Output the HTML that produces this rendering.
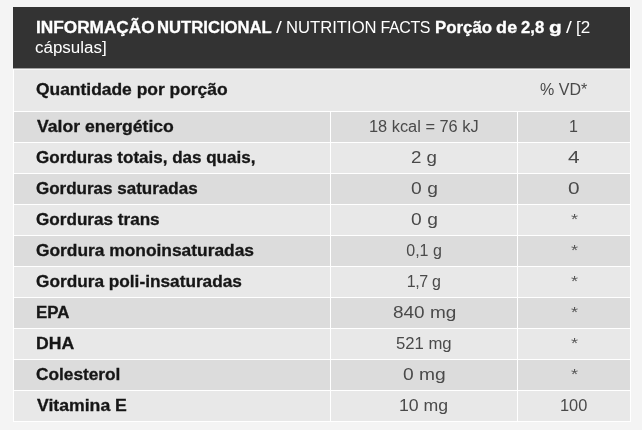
<!DOCTYPE html>
<html lang="pt-BR"><head><meta charset="utf-8"><title>Informação Nutricional</title>
<style>
html,body{margin:0;padding:0}
body{width:642px;height:430px;overflow:hidden;position:relative;background:#f4f4f4;font-family:"Liberation Sans", sans-serif;}
.r{position:absolute;left:13px;width:618px}
.t{position:absolute;white-space:pre;line-height:20px;height:20px;transform-origin:0 0}
.b{-webkit-text-stroke:0.3px currentColor}
</style></head><body>
<div class="r" style="top:7px;height:415px;background:#fff"></div>
<div class="r" style="top:7px;height:61px;width:617px;background:#333333"></div>
<div class="r" style="top:68px;height:1px;width:617px;background:#a3a3a3"></div>
<div class="r" style="top:69px;height:1px;left:14px;width:616px;background:#f6f6f6"></div>
<div style="position:absolute;left:14px;top:70px;width:616px;height:41px;background:#e8e8e8"></div>
<div style="position:absolute;left:14px;top:112px;width:316px;height:30px;background:#dcdcdc"></div>
<div style="position:absolute;left:331px;top:112px;width:186px;height:30px;background:#dcdcdc"></div>
<div style="position:absolute;left:518px;top:112px;width:112px;height:30px;background:#dcdcdc"></div>
<div style="position:absolute;left:14px;top:143px;width:316px;height:30px;background:#e8e8e8"></div>
<div style="position:absolute;left:331px;top:143px;width:186px;height:30px;background:#e8e8e8"></div>
<div style="position:absolute;left:518px;top:143px;width:112px;height:30px;background:#e8e8e8"></div>
<div style="position:absolute;left:14px;top:174px;width:316px;height:30px;background:#dcdcdc"></div>
<div style="position:absolute;left:331px;top:174px;width:186px;height:30px;background:#dcdcdc"></div>
<div style="position:absolute;left:518px;top:174px;width:112px;height:30px;background:#dcdcdc"></div>
<div style="position:absolute;left:14px;top:205px;width:316px;height:30px;background:#e8e8e8"></div>
<div style="position:absolute;left:331px;top:205px;width:186px;height:30px;background:#e8e8e8"></div>
<div style="position:absolute;left:518px;top:205px;width:112px;height:30px;background:#e8e8e8"></div>
<div style="position:absolute;left:14px;top:236px;width:316px;height:30px;background:#dcdcdc"></div>
<div style="position:absolute;left:331px;top:236px;width:186px;height:30px;background:#dcdcdc"></div>
<div style="position:absolute;left:518px;top:236px;width:112px;height:30px;background:#dcdcdc"></div>
<div style="position:absolute;left:14px;top:267px;width:316px;height:30px;background:#e8e8e8"></div>
<div style="position:absolute;left:331px;top:267px;width:186px;height:30px;background:#e8e8e8"></div>
<div style="position:absolute;left:518px;top:267px;width:112px;height:30px;background:#e8e8e8"></div>
<div style="position:absolute;left:14px;top:298px;width:316px;height:30px;background:#dcdcdc"></div>
<div style="position:absolute;left:331px;top:298px;width:186px;height:30px;background:#dcdcdc"></div>
<div style="position:absolute;left:518px;top:298px;width:112px;height:30px;background:#dcdcdc"></div>
<div style="position:absolute;left:14px;top:329px;width:316px;height:30px;background:#e8e8e8"></div>
<div style="position:absolute;left:331px;top:329px;width:186px;height:30px;background:#e8e8e8"></div>
<div style="position:absolute;left:518px;top:329px;width:112px;height:30px;background:#e8e8e8"></div>
<div style="position:absolute;left:14px;top:360px;width:316px;height:30px;background:#dcdcdc"></div>
<div style="position:absolute;left:331px;top:360px;width:186px;height:30px;background:#dcdcdc"></div>
<div style="position:absolute;left:518px;top:360px;width:112px;height:30px;background:#dcdcdc"></div>
<div style="position:absolute;left:14px;top:391px;width:316px;height:30px;background:#e8e8e8"></div>
<div style="position:absolute;left:331px;top:391px;width:186px;height:30px;background:#e8e8e8"></div>
<div style="position:absolute;left:518px;top:391px;width:112px;height:30px;background:#e8e8e8"></div>
<div>
<span class="t b" style="left:35.92px;top:17.96px;font-size:16px;font-weight:700;color:#fff;transform:scaleX(1.0765);letter-spacing:-0.000px">INFORMAÇÃO</span>
<span class="t b" style="left:157.46px;top:17.96px;font-size:16px;font-weight:700;color:#fff;transform:scaleX(1.0409);letter-spacing:0.000px">NUTRICIONAL</span>
<span class="t" style="left:276.02px;top:17.96px;font-size:16px;font-weight:400;color:#fff;transform:scaleX(1.3000);letter-spacing:0.000px">/</span>
<span class="t" style="left:285.60px;top:17.96px;font-size:16px;font-weight:400;color:#fff;transform:scaleX(1.0402);letter-spacing:0.000px">NUTRITION</span>
<span class="t" style="left:380.55px;top:17.96px;font-size:16px;font-weight:400;color:#fff;transform:scaleX(1.0000);letter-spacing:-0.425px">FACTS</span>
<span class="t b" style="left:434.65px;top:17.96px;font-size:16px;font-weight:700;color:#fff;transform:scaleX(1.0540);letter-spacing:0.000px">Porção</span>
<span class="t b" style="left:496.26px;top:17.96px;font-size:16px;font-weight:700;color:#fff;transform:scaleX(1.1200);letter-spacing:0.250px">de</span>
<span class="t b" style="left:521.38px;top:17.96px;font-size:16px;font-weight:700;color:#fff;transform:scaleX(1.0400);letter-spacing:0.000px">2,8</span>
<span class="t b" style="left:549.33px;top:17.96px;font-size:16px;font-weight:700;color:#fff;transform:scaleX(1.3000);letter-spacing:0.000px">g</span>
<span class="t" style="left:565.58px;top:17.96px;font-size:16px;font-weight:400;color:#fff;transform:scaleX(1.3000);letter-spacing:0.000px">/</span>
<span class="t" style="left:575.67px;top:17.96px;font-size:16px;font-weight:400;color:#fff;transform:scaleX(1.0667);letter-spacing:0.000px">[2</span>
<span class="t" style="left:35.00px;top:38.46px;font-size:16px;font-weight:400;color:#fff;transform:scaleX(1.0601);letter-spacing:0.000px">cápsulas]</span>
</div>
<div>
<span class="t b" style="left:35.98px;top:79.86px;font-size:16px;font-weight:700;color:#161616;transform:scaleX(1.0884);letter-spacing:0.000px">Quantidade por porção</span>
<span class="t" style="left:539.50px;top:80.06px;font-size:16px;font-weight:400;color:#4a4a4a;transform:scaleX(1.0032);letter-spacing:0.000px">% VD*</span>
</div>
<div>
<span class="t b" style="left:36.73px;top:117.36px;font-size:16px;font-weight:700;color:#161616;transform:scaleX(1.0990);letter-spacing:0.000px">Valor energético</span>
<span class="t" style="left:369.02px;top:116.86px;font-size:16px;font-weight:400;color:#4a4a4a;transform:scaleX(1.0224);letter-spacing:0.000px">18 kcal = 76 kJ</span>
<span class="t" style="left:568.98px;top:116.86px;font-size:16px;font-weight:400;color:#4a4a4a;transform:scaleX(1.0000);letter-spacing:0.000px">1</span>
</div>
<div>
<span class="t b" style="left:36.00px;top:148.36px;font-size:16px;font-weight:700;color:#161616;transform:scaleX(1.0636);letter-spacing:0.000px">Gorduras totais, das quais,</span>
<span class="t" style="left:411.42px;top:147.86px;font-size:16px;font-weight:400;color:#4a4a4a;transform:scaleX(1.1707);letter-spacing:0.000px">2 g</span>
<span class="t" style="left:568.26px;top:147.86px;font-size:16px;font-weight:400;color:#4a4a4a;transform:scaleX(1.3000);letter-spacing:0.000px">4</span>
</div>
<div>
<span class="t b" style="left:36.00px;top:179.36px;font-size:16px;font-weight:700;color:#161616;transform:scaleX(1.0627);letter-spacing:0.000px">Gorduras saturadas</span>
<span class="t" style="left:410.60px;top:178.86px;font-size:16px;font-weight:400;color:#4a4a4a;transform:scaleX(1.2000);letter-spacing:0.083px">0 g</span>
<span class="t" style="left:568.15px;top:178.86px;font-size:16px;font-weight:400;color:#4a4a4a;transform:scaleX(1.3000);letter-spacing:0.000px">0</span>
</div>
<div>
<span class="t b" style="left:36.00px;top:210.36px;font-size:16px;font-weight:700;color:#161616;transform:scaleX(1.0696);letter-spacing:0.000px">Gorduras trans</span>
<span class="t" style="left:410.60px;top:209.86px;font-size:16px;font-weight:400;color:#4a4a4a;transform:scaleX(1.2000);letter-spacing:0.083px">0 g</span>
<span class="t" style="left:570.67px;top:209.15px;font-size:14px;font-weight:400;color:#555555;transform:scaleX(1.3000);letter-spacing:0.000px">*</span>
</div>
<div>
<span class="t b" style="left:35.99px;top:241.36px;font-size:16px;font-weight:700;color:#161616;transform:scaleX(1.0847);letter-spacing:0.000px">Gordura monoinsaturadas</span>
<span class="t" style="left:406.25px;top:240.86px;font-size:16px;font-weight:400;color:#4a4a4a;transform:scaleX(1.0000);letter-spacing:-0.013px">0,1 g</span>
<span class="t" style="left:570.67px;top:240.15px;font-size:14px;font-weight:400;color:#555555;transform:scaleX(1.3000);letter-spacing:0.000px">*</span>
</div>
<div>
<span class="t b" style="left:35.99px;top:272.36px;font-size:16px;font-weight:700;color:#161616;transform:scaleX(1.0772);letter-spacing:0.000px">Gordura poli-insaturadas</span>
<span class="t" style="left:406.75px;top:271.86px;font-size:16px;font-weight:400;color:#4a4a4a;transform:scaleX(1.0000);letter-spacing:-0.362px">1,7 g</span>
<span class="t" style="left:570.67px;top:271.15px;font-size:14px;font-weight:400;color:#555555;transform:scaleX(1.3000);letter-spacing:0.000px">*</span>
</div>
<div>
<span class="t b" style="left:36.35px;top:303.36px;font-size:16px;font-weight:700;color:#161616;transform:scaleX(1.0545);letter-spacing:0.000px">EPA</span>
<span class="t" style="left:392.71px;top:302.86px;font-size:16px;font-weight:400;color:#4a4a4a;transform:scaleX(1.1845);letter-spacing:0.000px">840 mg</span>
<span class="t" style="left:570.67px;top:302.15px;font-size:14px;font-weight:400;color:#555555;transform:scaleX(1.3000);letter-spacing:0.000px">*</span>
</div>
<div>
<span class="t b" style="left:36.30px;top:334.36px;font-size:16px;font-weight:700;color:#161616;transform:scaleX(1.1008);letter-spacing:0.000px">DHA</span>
<span class="t" style="left:396.22px;top:333.86px;font-size:16px;font-weight:400;color:#4a4a4a;transform:scaleX(1.0427);letter-spacing:0.000px">521 mg</span>
<span class="t" style="left:570.67px;top:333.15px;font-size:14px;font-weight:400;color:#555555;transform:scaleX(1.3000);letter-spacing:0.000px">*</span>
</div>
<div>
<span class="t b" style="left:35.99px;top:365.36px;font-size:16px;font-weight:700;color:#161616;transform:scaleX(1.0780);letter-spacing:0.000px">Colesterol</span>
<span class="t" style="left:402.70px;top:364.86px;font-size:16px;font-weight:400;color:#4a4a4a;transform:scaleX(1.2000);letter-spacing:0.028px">0 mg</span>
<span class="t" style="left:570.67px;top:364.15px;font-size:14px;font-weight:400;color:#555555;transform:scaleX(1.3000);letter-spacing:0.000px">*</span>
</div>
<div>
<span class="t b" style="left:36.72px;top:396.36px;font-size:16px;font-weight:700;color:#161616;transform:scaleX(1.1022);letter-spacing:0.000px">Vitamina E</span>
<span class="t" style="left:399.12px;top:395.86px;font-size:16px;font-weight:400;color:#4a4a4a;transform:scaleX(1.1053);letter-spacing:0.000px">10 mg</span>
<span class="t" style="left:560.22px;top:395.86px;font-size:16px;font-weight:400;color:#4a4a4a;transform:scaleX(1.0222);letter-spacing:0.000px">100</span>
</div>
</body></html>
